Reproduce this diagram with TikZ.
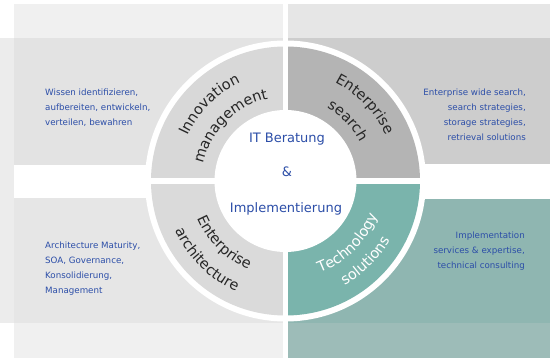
\documentclass[tikz,border=0pt]{standalone}
\usepackage{fontspec}
\setmainfont{DejaVu Sans}
\usetikzlibrary{decorations.text}
\definecolor{itblue}{RGB}{44,78,168}
\definecolor{bandtop}{RGB}{240,240,240}
\definecolor{bandtopR}{RGB}{230,230,230}
\definecolor{bandTL}{RGB}{227,227,227}
\definecolor{bandTR}{RGB}{205,205,205}
\definecolor{bandBL}{RGB}{230,230,230}
\definecolor{bandBR}{RGB}{143,182,177}
\definecolor{bandbotR}{RGB}{157,188,184}
\definecolor{strip}{RGB}{236,236,236}
\definecolor{ringTL}{RGB}{216,216,216}
\definecolor{ringTR}{RGB}{180,180,180}
\definecolor{ringBL}{RGB}{218,218,218}
\definecolor{ringBR}{RGB}{122,180,172}

\begin{document}
\begin{tikzpicture}[x=1pt, y=1pt]
            \tikzset{desc/.style={text=itblue, font=\fontsize{8.7}{15}\selectfont, inner sep=0pt}}
            \tikzset{centre/.style={text=itblue, font=\fontsize{13}{15}\selectfont, inner sep=0pt, anchor=base}}
            \tikzset{ringword/.style 2 args={decorate, decoration={text along path, text align=center, text color=#1, text={|\fontsize{14.5}{17}\selectfont|#2}}}}
            \useasboundingbox (0, 0) rectangle (550, 358);
            % bands
            \fill[strip] (0, 35) rectangle (14, 320);
            \fill[bandtop] (14, 320) rectangle (283, 354);
            \fill[bandtopR] (288, 320) rectangle (550, 354);
            \fill[bandTL] (14, 193) rectangle (283, 320);
            \fill[bandTR] (288, 194) rectangle (550, 320);
            \fill[bandBL] (14, 35) rectangle (283, 160);
            \fill[bandBR] (288, 35) rectangle (550, 159);
            \fill[bandtop] (14, 0) rectangle (283, 35);
            \fill[bandbotR] (288, 0) rectangle (550, 35);
            % ring
            \coordinate (c) at (285.5, 177);
            \fill[white] (c) circle[radius=140.5];
            \fill[ringTR] (c) -- ++(0, 134.5) arc[start angle=90, end angle=0, radius=134.5] -- cycle;
            \fill[ringTL] (c) -- ++(0, 134.5) arc[start angle=90, end angle=180, radius=134.5] -- cycle;
            \fill[ringBL] (c) -- ++(0, -134.5) arc[start angle=270, end angle=180, radius=134.5] -- cycle;
            \fill[ringBR] (c) -- ++(0, -134.5) arc[start angle=270, end angle=360, radius=134.5] -- cycle;
            \draw[white, line width=6] ([xshift=-141pt]c) -- ([xshift=141pt]c);
            \draw[white, line width=5] ([yshift=-141pt]c) -- ([yshift=141pt]c);
            \fill[white] (c) circle[radius=71];
            % ring words
            \path[ringword={black!85}{Innovation}] (c) ++(175:108) arc[start angle=175, end angle=95, radius=108];
            \path[ringword={black!85}{management}] (c) ++(180:84) arc[start angle=180, end angle=90, radius=84];
            \path[ringword={black!85}{Enterprise}] (c) ++(84:110) arc[start angle=84, end angle=4, radius=110];
            \path[ringword={black!85}{search}] (c) ++(84:84) arc[start angle=84, end angle=4, radius=84];
            \path[ringword={black!85}{Enterprise}] (c) ++(185:96) arc[start angle=185, end angle=265, radius=96];
            \path[ringword={black!85}{architecture}] (c) ++(185:121) arc[start angle=185, end angle=265, radius=121];
            \path[ringword={white}{Technology}] (c) ++(275:98) arc[start angle=275, end angle=355, radius=98];
            \path[ringword={white}{solutions}] (c) ++(275:120) arc[start angle=275, end angle=355, radius=120];
            % centre
            \node[centre] (beratung) at (287, 215.5) {IT Beratung};
            \node[centre] (und) at (287, 181) {\&};
            \node[centre] (impl) at (286, 145) {Implementierung};
            % descriptions (base = last line)
            \node[desc, anchor=base west, align=left] (wissen) at (45, 232)
                {Wissen identifizieren,\\aufbereiten, entwickeln,\\verteilen, bewahren};
            \node[desc, anchor=base east, align=right] (suche) at (526, 217)
                {Enterprise wide search,\\search strategies,\\storage strategies,\\retrieval solutions};
            \node[desc, anchor=base west, align=left] (archi) at (45, 64.5)
                {Architecture Maturity,\\SOA, Governance,\\Konsolidierung,\\Management};
            \node[desc, anchor=base east, align=right] (technik) at (525, 89)
                {Implementation\\services \& expertise,\\technical consulting};
        \end{tikzpicture}
\end{document}
